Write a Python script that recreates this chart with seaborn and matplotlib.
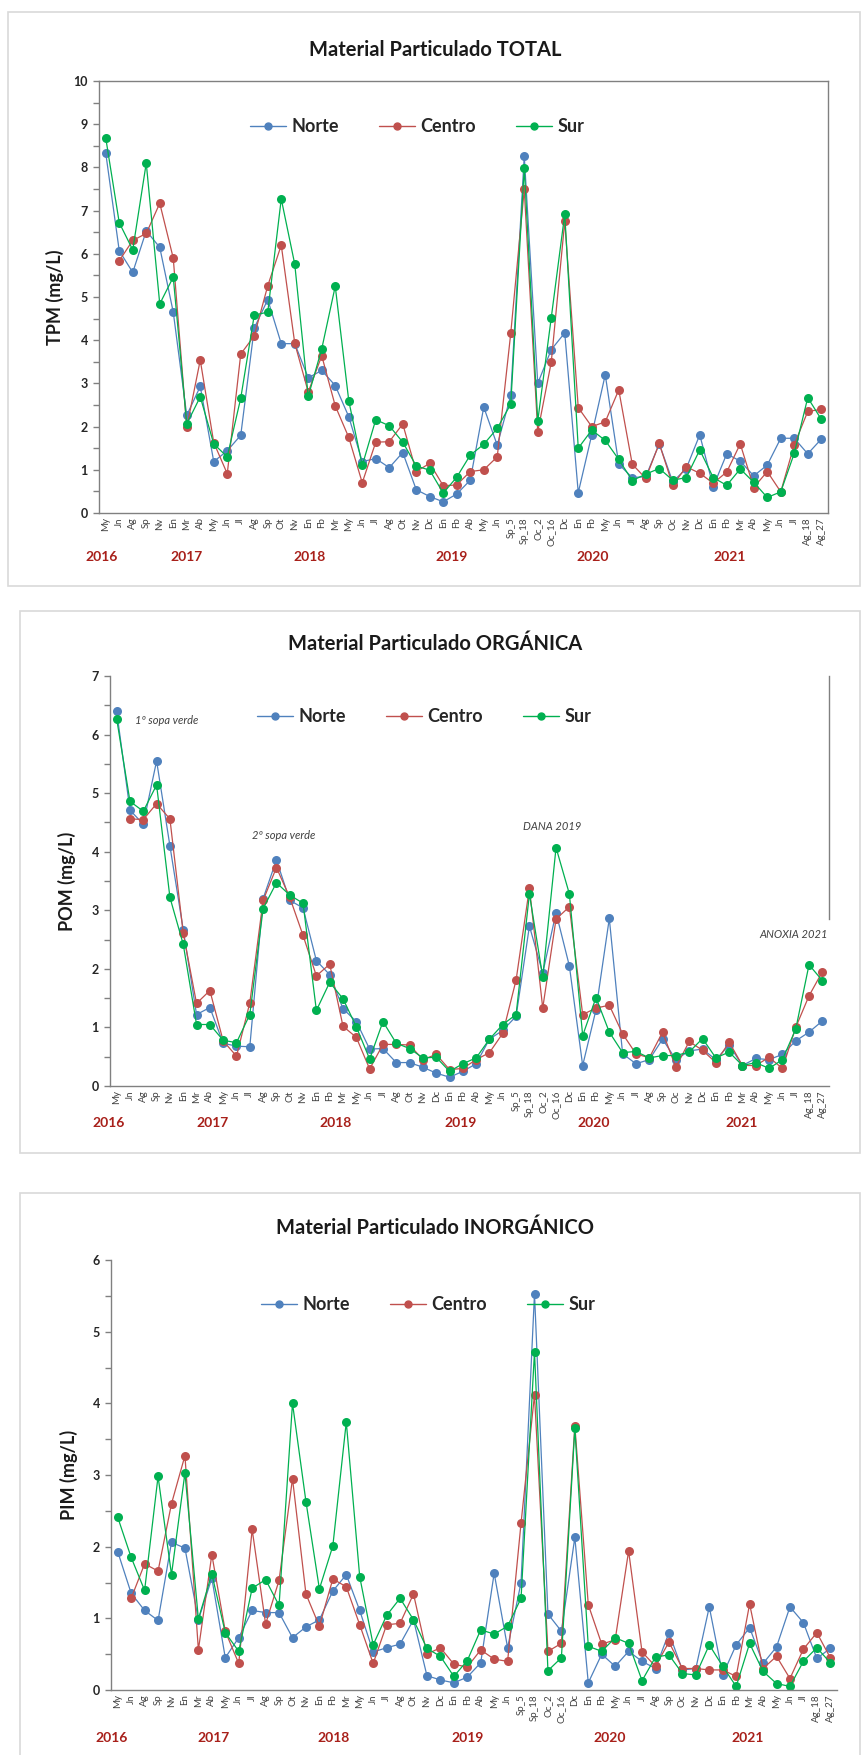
import numpy as np
import pandas as pd
import matplotlib
matplotlib.use("Agg")
import matplotlib.pyplot as plt
import seaborn as sns
from matplotlib.lines import Line2D
from matplotlib.patches import Rectangle
from matplotlib.ticker import MultipleLocator

nan = np.nan

# Sampling dates (category axis)
muestreos = ["My", "Jn", "Ag", "Sp", "Nv", "En", "Mr", "Ab", "My", "Jn", "Jl", "Ag", "Sp",
             "Ot", "Nv", "En", "Fb", "Mr", "My", "Jn", "Jl", "Ag", "Ot", "Nv", "Dc", "En",
             "Fb", "Ab", "My", "Jn", "Sp_5", "Sp_18", "Oc_2", "Oc_16", "Dc", "En", "Fb",
             "My", "Jn", "Jl", "Ag", "Sp", "Oc", "Nv", "Dc", "En", "Fb", "Mr", "Ab", "My",
             "Jn", "Jl", "Ag_18", "Ag_27"]
zonas = ["Norte", "Centro", "Sur"]
colores = ["#4F81BD", "#C0504D", "#00B050"]
anios = ["2016", "2017", "2018", "2019", "2020", "2021"]

# Total particulate matter (mg/L)
tpm_norte = [8.33, 6.07, 5.57, 6.53, 6.15, 4.65, 2.26, 2.93, 1.19, 1.44, 1.80, 4.28, 4.94,
             3.92, 3.92, 3.13, 3.30, 2.95, 2.23, 1.19, 1.26, 1.05, 1.40, 0.54, 0.38, 0.26,
             0.44, 0.76, 2.45, 1.57, 2.72, 8.26, 3.00, 3.78, 4.17, 0.47, 1.81, 3.20, 1.13,
             0.82, 0.84, 1.60, 0.72, 1.03, 1.81, 0.61, 1.37, 1.20, 0.86, 1.11, 1.73, 1.73,
             1.37, 1.71]
tpm_centro = [nan, 5.84, 6.31, 6.47, 7.17, 5.90, 1.98, 3.54, 1.63, 0.91, 3.68, 4.10, 5.26,
              6.20, 3.93, 2.80, 3.64, 2.48, 1.75, 0.70, 1.64, 1.65, 2.06, 0.96, 1.15, 0.63,
              0.65, 0.96, 1.00, 1.30, 4.16, 7.49, 1.88, 3.49, 6.75, 2.44, 2.00, 2.11, 2.85,
              1.13, 0.80, 1.61, 0.64, 1.07, 0.92, 0.69, 0.95, 1.60, 0.59, 0.96, 0.49, 1.58,
              2.35, 2.40]
tpm_sur = [8.68, 6.72, 6.09, 8.10, 4.84, 5.46, 2.06, 2.69, 1.60, 1.30, 2.66, 4.58, 4.65,
           7.27, 5.76, 2.70, 3.80, 5.25, 2.60, 1.10, 2.16, 2.02, 1.64, 1.09, 0.99, 0.46,
           0.83, 1.34, 1.59, 1.96, 2.52, 7.99, 2.13, 4.52, 6.92, 1.50, 1.92, 1.68, 1.24,
           0.75, 0.90, 1.03, 0.76, 0.82, 1.46, 0.82, 0.64, 1.02, 0.71, 0.36, 0.49, 1.38,
           2.67, 2.17]

# Particulate organic matter (mg/L)
pom_norte = [6.40, 4.71, 4.47, 5.55, 4.10, 2.67, 1.22, 1.34, 0.73, 0.68, 0.67, 3.20, 3.86,
             3.17, 3.04, 2.14, 1.90, 1.32, 1.10, 0.63, 0.64, 0.40, 0.40, 0.32, 0.22, 0.15,
             0.25, 0.38, 0.80, 0.95, 1.19, 2.73, 1.93, 2.96, 2.05, 0.35, 1.30, 2.86, 0.55,
             0.38, 0.45, 0.80, 0.45, 0.60, 0.63, 0.45, 0.70, 0.35, 0.47, 0.45, 0.54, 0.77,
             0.92, 1.11]
pom_centro = [nan, 4.56, 4.55, 4.82, 4.56, 2.61, 1.41, 1.63, 0.77, 0.51, 1.42, 3.17, 3.73,
              3.22, 2.57, 1.88, 2.08, 1.02, 0.83, 0.29, 0.71, 0.71, 0.70, 0.45, 0.54, 0.28,
              0.30, 0.45, 0.57, 0.90, 1.81, 3.38, 1.33, 2.85, 3.06, 1.22, 1.33, 1.38, 0.89,
              0.55, 0.48, 0.92, 0.32, 0.76, 0.61, 0.40, 0.75, 0.35, 0.35, 0.49, 0.30, 1.00,
              1.54, 1.95]
pom_sur = [6.27, 4.86, 4.69, 5.14, 3.22, 2.42, 1.05, 1.05, 0.78, 0.74, 1.22, 3.03, 3.47,
           3.26, 3.12, 1.29, 1.77, 1.49, 1.01, 0.46, 1.10, 0.73, 0.64, 0.48, 0.49, 0.25,
           0.38, 0.48, 0.80, 1.05, 1.22, 3.28, 1.86, 4.07, 3.28, 0.86, 1.51, 0.92, 0.57,
           0.59, 0.48, 0.52, 0.52, 0.58, 0.81, 0.48, 0.58, 0.35, 0.40, 0.30, 0.45, 0.97,
           2.07, 1.80]

# Particulate inorganic matter (mg/L)
pim_norte = [1.93, 1.35, 1.11, 0.97, 2.06, 1.98, 0.98, 1.56, 0.45, 0.73, 1.11, 1.08, 1.08,
             0.73, 0.88, 0.98, 1.38, 1.61, 1.11, 0.53, 0.59, 0.64, 0.98, 0.20, 0.14, 0.10,
             0.18, 0.38, 1.63, 0.59, 1.50, 5.53, 1.06, 0.82, 2.13, 0.10, 0.50, 0.33, 0.54,
             0.40, 0.30, 0.80, 0.28, 0.30, 1.16, 0.21, 0.63, 0.87, 0.37, 0.60, 1.16, 0.94,
             0.44, 0.58]
pim_centro = [nan, 1.28, 1.76, 1.66, 2.60, 3.27, 0.56, 1.89, 0.82, 0.37, 2.24, 0.92, 1.53,
              2.95, 1.34, 0.89, 1.55, 1.44, 0.91, 0.37, 0.91, 0.93, 1.34, 0.50, 0.59, 0.36,
              0.32, 0.56, 0.43, 0.40, 2.33, 4.12, 0.54, 0.65, 3.69, 1.19, 0.64, 0.70, 1.94,
              0.53, 0.33, 0.67, 0.30, 0.30, 0.28, 0.28, 0.19, 1.20, 0.30, 0.47, 0.16, 0.57,
              0.80, 0.45]
pim_sur = [2.41, 1.85, 1.39, 2.98, 1.61, 3.03, 0.99, 1.62, 0.80, 0.54, 1.42, 1.54, 1.18,
           4.00, 2.63, 1.41, 2.01, 3.74, 1.58, 0.63, 1.04, 1.28, 0.98, 0.58, 0.47, 0.19,
           0.41, 0.84, 0.78, 0.89, 1.28, 4.72, 0.27, 0.45, 3.65, 0.61, 0.54, 0.73, 0.65,
           0.13, 0.46, 0.49, 0.23, 0.21, 0.63, 0.33, 0.05, 0.65, 0.26, 0.09, 0.05, 0.40,
           0.59, 0.38]

sns.set_theme(style="white")
plt.rcParams["font.family"] = ["Lato", "DejaVu Sans"]

W, H = 861, 1755
fig = plt.figure(figsize=(W / 100, H / 100), dpi=100)


def fx(px):
    return px / W


def fy(py):
    return 1 - py / H


paneles = [
    dict(titulo="Material Particulado TOTAL", ylab="TPM (mg/L)", series=(tpm_norte, tpm_centro, tpm_sur),
         ymax=10, caja=(99, 81, 828, 513), marco=(8, 12, 860, 586), ty=50, ly=127, lx=417,
         ylx=55, spines=("left", "bottom", "top", "right"), derecha=None,
         anios_x=(102, 187, 310, 452, 593, 730), anios_y=557,
         notas=[]),
    dict(titulo="Material Particulado ORGÁNICA", ylab="POM (mg/L)", series=(pom_norte, pom_centro, pom_sur),
         ymax=7, caja=(110, 676, 829, 1086), marco=(20, 611, 860, 1153), ty=644, ly=717, lx=424,
         ylx=67, spines=("left", "bottom", "right"), derecha=(2.85, 7),
         anios_x=(109, 213, 336, 461, 594, 742), anios_y=1123,
         notas=[("1º sopa verde", 135, 721), ("2º sopa verde", 252, 836),
                ("DANA 2019", 523, 826), ("ANOXIA 2021", 759, 935)]),
    dict(titulo="Material Particulado INORGÁNICO", ylab="PIM (mg/L)", series=(pim_norte, pim_centro, pim_sur),
         ymax=6, caja=(111, 1260, 837, 1690), marco=(20, 1193, 860, 1760), ty=1228, ly=1305, lx=428,
         ylx=69, spines=("left", "bottom"), derecha=None,
         anios_x=(112, 214, 334, 468, 610, 748), anios_y=1738,
         notas=[]),
]

n = len(muestreos)
for p in paneles:
    # chart-area border
    l, t, r, b = p["marco"]
    fig.patches.append(Rectangle((fx(l), fy(b)), fx(r) - fx(l), fy(t) - fy(b),
                                 transform=fig.transFigure, fill=False,
                                 edgecolor="#D9D9D9", linewidth=1.2, zorder=0))

    l, t, r, b = p["caja"]
    ax = fig.add_axes([fx(l), fy(b), fx(r) - fx(l), fy(t) - fy(b)])
    df = pd.DataFrame({
        "x": np.tile(np.arange(n), 3),
        "valor": np.concatenate([np.asarray(s, dtype=float) for s in p["series"]]),
        "zona": np.repeat(zonas, n),
    }).dropna()
    sns.lineplot(data=df, x="x", y="valor", hue="zona", hue_order=zonas, palette=colores,
                 marker="o", markersize=6.5, markeredgewidth=0, linewidth=0.9,
                 estimator=None, legend=False, ax=ax)

    ax.set_xlim(-0.5, n - 0.5)
    ax.set_ylim(0, p["ymax"])
    ax.set_xticks(np.arange(n))
    ax.set_xticklabels(muestreos, rotation=90, fontsize=7, color="#404040")
    ax.yaxis.set_major_locator(MultipleLocator(1))
    ax.yaxis.set_minor_locator(MultipleLocator(0.5))
    ax.tick_params(axis="x", length=0, pad=3)
    ax.tick_params(axis="y", which="both", direction="out", length=4, width=1,
                   color="#808080", left=True, pad=4)
    for lab in ax.get_yticklabels():
        lab.set_fontweight("bold")
        lab.set_fontsize(9)
        lab.set_color("#262626")
    ax.set_xlabel("")
    ax.set_ylabel("")
    for nombre, sp in ax.spines.items():
        sp.set_visible(nombre in p["spines"])
        sp.set_color("#808080")
        sp.set_linewidth(1.0)
    if p["derecha"] is not None:
        ax.spines["right"].set_bounds(*p["derecha"])

    fig.text(fx(p["ylx"]), fy((t + b) / 2), p["ylab"], rotation=90, ha="center", va="center",
             fontsize=13, fontweight="bold", color="#1a1a1a")
    fig.text(fx(435), fy(p["ty"]), p["titulo"], ha="center", va="center",
             fontsize=14.5, fontweight="bold", color="#1a1a1a")

    for anio, xa in zip(anios, p["anios_x"]):
        fig.text(fx(xa), fy(p["anios_y"]), anio, ha="center", va="center",
                 fontsize=10, fontweight="bold", color="#A8201A")

    for texto, xa, ya in p["notas"]:
        fig.text(fx(xa), fy(ya), texto, ha="left", va="center", fontsize=8,
                 style="italic", color="#404040",
                 bbox=dict(facecolor="white", edgecolor="none", pad=1.5))

    manejadores = [Line2D([], [], color=c, marker="o", markersize=5, linewidth=1.0) for c in colores]
    ax.legend(manejadores, zonas, loc="center", bbox_to_anchor=(fx(p["lx"]), fy(p["ly"])),
              bbox_transform=fig.transFigure, ncol=3, frameon=False,
              prop={"weight": "bold", "size": 13}, handlelength=2.0,
              handletextpad=0.3, columnspacing=2.2)

fig.savefig("out.png", dpi=100, facecolor="white")
